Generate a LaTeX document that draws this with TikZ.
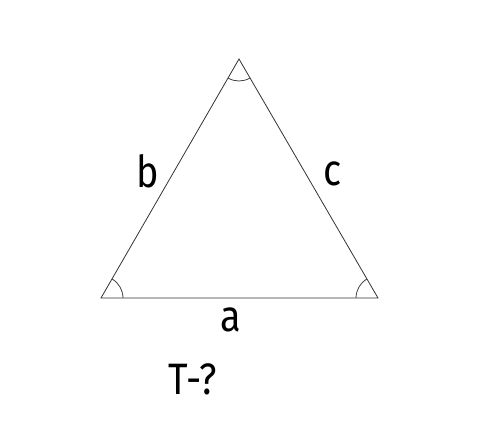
\documentclass[tikz,border=0pt]{standalone}
\usepackage{fontspec}
\setmainfont{Fira Sans}
\usetikzlibrary{angles,calc}

\begin{document}
\begin{tikzpicture}[x=1pt,y=-1pt,font=\fontsize{44}{50}\selectfont,
  side/.style={draw=black!80,line width=0.8pt},
  anglemark/.style={draw=black!75,line width=0.8pt,angle radius=22pt},
  lbl/.style={xscale=0.86,transform shape}]
\useasboundingbox (0,0) rectangle (480,439);
% vertices
\coordinate (A) at (101,298);
\coordinate (B) at (378,298);
\coordinate (C) at (239,59);
% sides
\draw[side] (A) -- (B) -- (C) -- cycle;
% angle marks
\pic[anglemark] {angle = B--A--C};
\pic[anglemark] {angle = C--B--A};
\pic[anglemark] {angle = A--C--B};
% labels
\node[lbl] (la) at (231,320) {a};
\node[lbl] (lb) at (148,171) {b};
\node[lbl] (lc) at (333,174) {c};
\node[lbl] (lt) at (193,379) {T-?};
\end{tikzpicture}
\end{document}
